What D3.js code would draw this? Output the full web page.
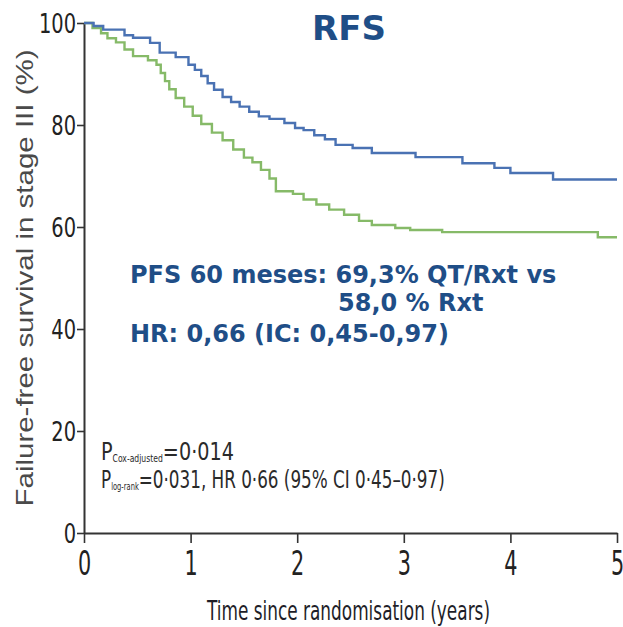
<!DOCTYPE html>
<html>
<head>
<meta charset="utf-8">
<script src="https://cdn.jsdelivr.net/npm/d3@7"></script>
<style>
  html, body { margin: 0; padding: 0; background: #fff; }
  svg { display: block; }
</style>
</head>
<body>
<svg id="chart" width="623" height="627"></svg>
<script>
// Kaplan–Meier step data: event times (years) and survival (%)
const qtTime  = [0, 0.09, 0.18, 0.38, 0.46, 0.62, 0.71, 0.86, 0.98, 1.04, 1.10, 1.16, 1.22, 1.30, 1.38, 1.46, 1.55, 1.64, 1.74, 1.88, 1.98, 2.06, 2.16, 2.26, 2.36, 2.52, 2.70, 3.11, 3.55, 3.85, 4.00, 4.40];
const qtSurv  = [100, 99.4, 98.7, 97.6, 97.1, 96.1, 94.2, 93.3, 91.8, 90.8, 89.6, 88.2, 86.9, 85.5, 84.5, 83.6, 82.6, 81.7, 81.2, 80.4, 79.4, 79.0, 78.0, 77.2, 76.1, 75.5, 74.5, 73.7, 72.5, 71.6, 70.6, 69.3];
const rtTime  = [0, 0.08, 0.16, 0.22, 0.30, 0.38, 0.46, 0.60, 0.68, 0.72, 0.76, 0.80, 0.86, 0.94, 1.02, 1.10, 1.20, 1.30, 1.40, 1.50, 1.58, 1.66, 1.74, 1.80, 1.96, 2.06, 2.18, 2.30, 2.44, 2.58, 2.70, 2.92, 3.06, 3.36, 4.82];
const rtSurv  = [100, 99.0, 98.0, 97.0, 96.2, 94.8, 93.5, 92.7, 91.8, 90.2, 88.6, 87.0, 85.3, 83.6, 81.8, 80.2, 78.5, 77.0, 75.2, 73.6, 72.7, 71.2, 69.5, 67.0, 66.5, 65.4, 64.4, 63.4, 62.4, 61.2, 60.4, 59.8, 59.4, 59.0, 58.0];
const xTicks = [0, 1, 2, 3, 4, 5];
const yTicks = [0, 20, 40, 60, 80, 100];
const maxYears = 5;

const svg = d3.select("#chart");
const narrow = "'Liberation Sans Narrow', 'DejaVu Sans Condensed', sans-serif";
const navy = "#1f4e87";

const x = d3.scaleLinear().domain([0, maxYears]).range([84, 617]);
const y = d3.scaleLinear().domain([0, 100]).range([533, 23]);

// Y axis
const yAxis = svg.append("g")
  .attr("transform", `translate(${x(0)},0)`)
  .call(d3.axisLeft(y).tickValues(yTicks).tickFormat(d3.format("d"))
    .tickSize(7).tickSizeOuter(0).tickPadding(2));
yAxis.select(".domain").attr("stroke", "#333").attr("stroke-width", 2);
yAxis.selectAll(".tick line").attr("stroke", "#333").attr("stroke-width", 1.6);
yAxis.selectAll(".tick text")
  .attr("font-family", narrow).attr("font-size", 27).attr("fill", "#222")
  .attr("x", 0).attr("dy", "0.36em")
  .attr("transform", "translate(-8,0) scale(0.8,1)");

// X axis
const xAxis = svg.append("g")
  .attr("transform", `translate(0,${y(0)})`)
  .call(d3.axisBottom(x).tickValues(xTicks).tickFormat(d3.format("d"))
    .tickSize(10).tickSizeOuter(0).tickPadding(9));
xAxis.select(".domain").attr("stroke", "#333").attr("stroke-width", 2);
xAxis.selectAll(".tick line").attr("stroke", "#333").attr("stroke-width", 1.6);
xAxis.selectAll(".tick text")
  .attr("font-family", narrow).attr("font-size", 33).attr("fill", "#222")
  .attr("transform", "scale(0.7,1)");

// Survival curves
const stepLine = d3.line()
  .x(d => x(d[0]))
  .y(d => y(d[1]))
  .curve(d3.curveStepAfter);

function series(times, surv) {
  const pts = times.map((t, i) => [t, surv[i]]);
  pts.push([maxYears, surv[surv.length - 1]]);
  return pts;
}

svg.append("path")
  .datum(series(rtTime, rtSurv))
  .attr("fill", "none")
  .attr("stroke", "#86ba68")
  .attr("stroke-width", 2.4)
  .attr("d", stepLine);

svg.append("path")
  .datum(series(qtTime, qtSurv))
  .attr("fill", "none")
  .attr("stroke", "#4a72b3")
  .attr("stroke-width", 2.4)
  .attr("d", stepLine);

// Axis titles
svg.append("text")
  .attr("transform", "translate(33,278) rotate(-90)")
  .attr("text-anchor", "middle")
  .attr("font-family", "'Liberation Sans', Arial, sans-serif")
  .attr("font-size", 24).attr("fill", "#4a4a4a")
  .attr("textLength", 457).attr("lengthAdjust", "spacingAndGlyphs")
  .text("Failure-free survival in stage III (%)");

svg.append("text")
  .attr("x", 207).attr("y", 620)
  .attr("font-family", narrow)
  .attr("font-size", 27).attr("fill", "#1e1e28")
  .attr("textLength", 283).attr("lengthAdjust", "spacingAndGlyphs")
  .text("Time since randomisation (years)");

// Statistical annotations inside the plot, squeezed horizontally to a set width
function pLine(yPos, sub, rest, width) {
  const g = svg.append("g");
  const t = g.append("text")
    .attr("x", 0).attr("y", 0)
    .attr("font-family", narrow).attr("font-size", 25).attr("fill", "#2a2a2a");
  t.append("tspan").text("P");
  t.append("tspan").attr("font-size", 10).attr("dy", 2).text(sub);
  t.append("tspan").attr("dy", -2).text(rest);
  const natural = t.node().getComputedTextLength();
  g.attr("transform", `translate(101,${yPos}) scale(${width / natural},1)`);
}
pLine(460, "Cox-adjusted", "=0·014", 133);
pLine(488, "log-rank", "=0·031, HR 0·66 (95% CI 0·45–0·97)", 344);

// Title and summary text
svg.append("text")
  .attr("x", 349).attr("y", 40).attr("text-anchor", "middle")
  .attr("font-family", "'DejaVu Sans', Verdana, sans-serif").attr("font-weight", "bold")
  .attr("font-size", 34).attr("fill", navy)
  .text("RFS");

const summary = [
  { x: 130, y: 283, s: "PFS 60 meses: 69,3% QT/Rxt vs" },
  { x: 338, y: 311, s: "58,0 % Rxt" },
  { x: 130, y: 342, s: "HR: 0,66 (IC: 0,45-0,97)" }
];
svg.selectAll("text.summary").data(summary).enter().append("text")
  .attr("class", "summary")
  .attr("x", d => d.x).attr("y", d => d.y)
  .attr("font-family", "'DejaVu Sans', Verdana, sans-serif").attr("font-weight", "bold")
  .attr("font-size", 24).attr("fill", navy)
  .text(d => d.s);
</script>
</body>
</html>
